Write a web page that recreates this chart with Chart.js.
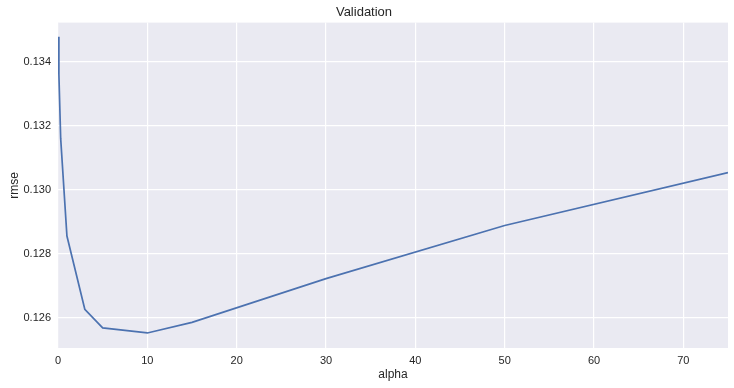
<!DOCTYPE html>
<html>
<head>
<meta charset="utf-8">
<script src="https://cdn.jsdelivr.net/npm/chart.js@4.4.0/dist/chart.umd.min.js"></script>
<style>
  html, body { margin: 0; padding: 0; background: #ffffff; }
  #wrap { width: 734px; height: 388px; }
</style>
</head>
<body>
<div id="wrap"><canvas id="c" width="734" height="388"></canvas></div>
<script>
const alphas = [0.05, 0.1, 0.3, 1, 3, 5, 10, 15, 30, 50, 75];
const rmse = [0.13478, 0.1336, 0.1316, 0.12855, 0.12626, 0.12568, 0.12552, 0.12585, 0.12722, 0.12888, 0.13053];
const xTicks = [0, 10, 20, 30, 40, 50, 60, 70];
const yTicks = [0.126, 0.128, 0.130, 0.132, 0.134];

const bgPlugin = {
  id: 'bg',
  beforeDraw(chart) {
    const { ctx, chartArea: a } = chart;
    ctx.save();
    ctx.fillStyle = '#EAEAF2';
    ctx.fillRect(a.left, a.top, a.right - a.left, a.bottom - a.top);
    ctx.restore();
  }
};

const font = { family: '"Liberation Sans", Arial, sans-serif' };

new Chart(document.getElementById('c'), {
  type: 'scatter',
  data: {
    datasets: [{
      data: alphas.map((a, i) => ({ x: a, y: rmse[i] })),
      showLine: true,
      borderColor: '#4C72B0',
      borderWidth: 1.7,
      pointRadius: 0,
      tension: 0,
      fill: false
    }]
  },
  options: {
    responsive: false,
    animation: false,
    devicePixelRatio: 1,
    layout: { padding: { left: 0, right: 6, top: 0, bottom: 0 } },
    plugins: {
      legend: { display: false },
      tooltip: { enabled: false },
      title: {
        display: true,
        text: 'Validation',
        color: '#262626',
        font: { ...font, size: 13, weight: 'normal' },
        padding: { top: 5, bottom: 2 }
      }
    },
    scales: {
      x: {
        type: 'linear',
        min: 0,
        max: 75,
        border: { display: false },
        grid: { color: '#ffffff', lineWidth: 1.2, drawTicks: false },
        afterBuildTicks(s) { s.ticks = xTicks.map(v => ({ value: v })); },
        afterFit(s) { s.height = 40; },
        ticks: { color: '#262626', font: { ...font, size: 11 }, padding: 6, maxRotation: 0 },
        title: { display: true, text: 'alpha', color: '#262626', font: { ...font, size: 12 }, padding: { top: 0, bottom: 6 } }
      },
      y: {
        type: 'linear',
        min: 0.12505,
        max: 0.13522,
        border: { display: false },
        grid: { color: '#ffffff', lineWidth: 1.2, drawTicks: false },
        afterBuildTicks(s) { s.ticks = yTicks.map(v => ({ value: v })); },
        afterFit(s) { s.width = 58; },
        ticks: { color: '#262626', font: { ...font, size: 11 }, padding: 7, callback: v => v.toFixed(3) },
        title: { display: true, text: 'rmse', color: '#262626', font: { ...font, size: 12 }, padding: { top: 7, bottom: 0 } }
      }
    }
  },
  plugins: [bgPlugin]
});
</script>
</body>
</html>
